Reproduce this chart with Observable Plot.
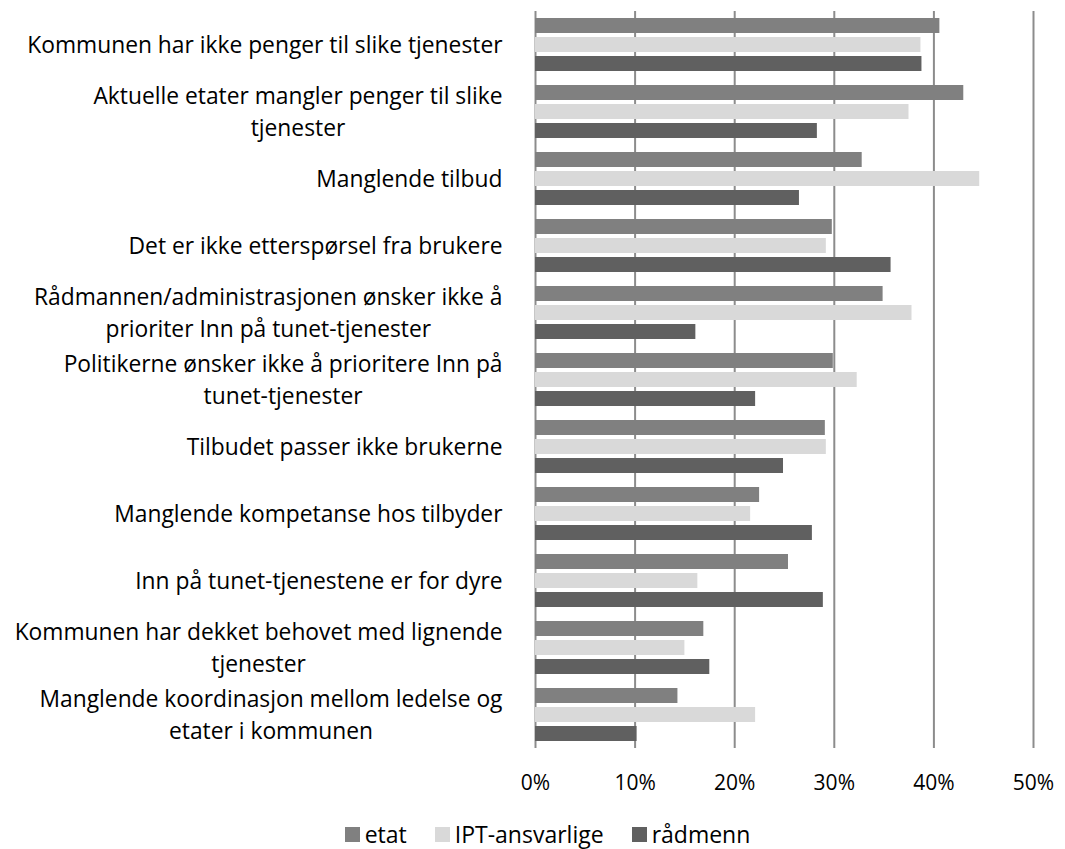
<!DOCTYPE html>
<html>
<head>
<meta charset="utf-8">
<script src="https://cdn.jsdelivr.net/npm/d3@7"></script>
<script src="https://cdn.jsdelivr.net/npm/@observablehq/plot@0.6"></script>
<style>
  body { margin: 0; background: #fff; font-family: "Open Sans", sans-serif; }
  #legend { width: 1035px; padding-left: 30px; display: flex; justify-content: center; align-items: center; gap: 28px; font-size: 23px; color: #000; height: 36px; margin-top: 6px; }
  #legend .item { display: flex; align-items: center; gap: 5px; }
  #legend .sw { width: 15px; height: 15px; display: inline-block; }
</style>
</head>
<body>
<div id="chart"></div>
<div id="legend"></div>
<script>
const categories = [
  "Kommunen har ikke penger til slike tjenester",
  "Aktuelle etater mangler penger til slike\ntjenester",
  "Manglende tilbud",
  "Det er ikke etterspørsel fra brukere",
  "Rådmannen/administrasjonen ønsker ikke å\nprioriter Inn på tunet-tjenester",
  "Politikerne ønsker ikke å prioritere Inn på\ntunet-tjenester",
  "Tilbudet passer ikke brukerne",
  "Manglende kompetanse hos tilbyder",
  "Inn på tunet-tjenestene er for dyre",
  "Kommunen har dekket behovet med lignende\ntjenester",
  "Manglende koordinasjon mellom ledelse og\netater i kommunen"
];
const series = ["etat", "IPT-ansvarlige", "rådmenn"];
const etat     = [0.406, 0.430, 0.328, 0.298, 0.349, 0.299, 0.291, 0.225, 0.254, 0.169, 0.143];
const ipt      = [0.387, 0.375, 0.446, 0.292, 0.378, 0.323, 0.292, 0.216, 0.163, 0.150, 0.221];
const radmenn  = [0.388, 0.283, 0.265, 0.357, 0.161, 0.221, 0.249, 0.278, 0.289, 0.175, 0.102];
const colors   = ["#808080", "#d9d9d9", "#606060"];
const xTicks   = [0, 0.1, 0.2, 0.3, 0.4, 0.5];

const valuesBySeries = [etat, ipt, radmenn];
const rows = categories.flatMap((c, i) => series.map((s, j) => ({category: c, series: s, value: valuesBySeries[j][i]})));

const chart = Plot.plot({
  width: 1065,
  height: 810,
  marginLeft: 535,
  marginRight: 32,
  marginTop: 10,
  marginBottom: 62,
  style: {fontFamily: "'Open Sans', sans-serif", fontSize: "21px", color: "#000", background: "#fff"},
  x: {domain: [0, 0.5], ticks: xTicks, tickFormat: d3.format(".0%"), tickSize: 0, tickPadding: 27, label: null},
  fy: {domain: categories, padding: 0, axis: null},
  y: {domain: series, paddingInner: 0.2, paddingOuter: 0.28, axis: null},
  color: {domain: series, range: colors},
  marks: [
    Plot.gridX(xTicks, {stroke: "#8c8c8c", strokeOpacity: 1, strokeWidth: 2}),
    Plot.barX(rows, {x: "value", y: "series", fy: "category", fill: "series"}),
    Plot.text(categories, {fy: d => d, text: d => d, frameAnchor: "left", textAnchor: "end", dx: -33, dy: -2, lineHeight: 1.38, fontSize: 22.8, fill: "#000"})
  ]
});
document.getElementById("chart").appendChild(chart);

function centerLines() {
  chart.querySelectorAll('g[aria-label="text"] text').forEach(t => {
    const spans = t.querySelectorAll("tspan");
    if (spans.length < 2) return;
    let maxW = 0;
    spans.forEach(s => { maxW = Math.max(maxW, s.getComputedTextLength()); });
    t.setAttribute("text-anchor", "middle");
    spans.forEach(s => s.setAttribute("x", -maxW / 2));
  });
}
centerLines();
if (document.fonts && document.fonts.ready) document.fonts.ready.then(centerLines);

const legend = document.getElementById("legend");
series.forEach((s, i) => {
  const item = document.createElement("span");
  item.className = "item";
  const sw = document.createElement("span");
  sw.className = "sw";
  sw.style.background = colors[i];
  const lab = document.createElement("span");
  lab.textContent = s;
  item.appendChild(sw);
  item.appendChild(lab);
  legend.appendChild(item);
});
</script>
</body>
</html>
